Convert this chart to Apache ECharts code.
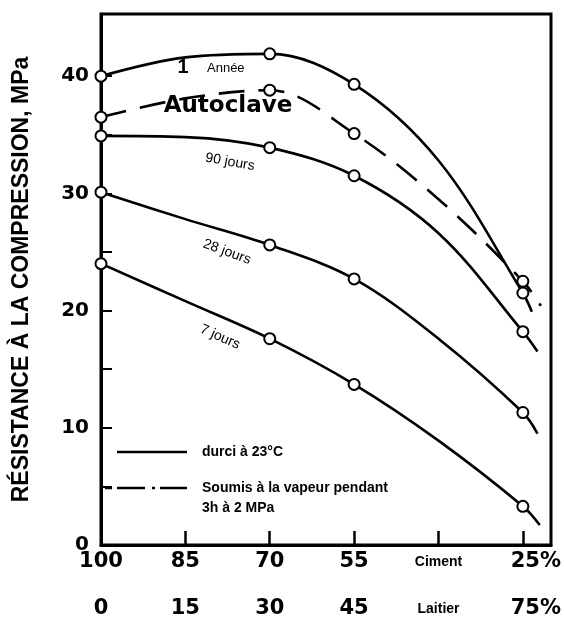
<!DOCTYPE html>
<html>
<head>
<meta charset="utf-8">
<script src="https://cdn.jsdelivr.net/npm/echarts@6/dist/echarts.min.js"></script>
<style>
  html, body { margin: 0; padding: 0; background: #fff; }
  #chart { width: 564px; height: 619px; }
</style>
</head>
<body>
<div id="chart"></div>
<script>
// Slag replacement level (%) at which each strength was measured
const slagPct = [0, 30, 45, 75];

// Compressive strength (MPa) at each replacement level
const anneeMPa     = [40.0, 41.9, 39.3, 21.5];
const autoclaveMPa = [36.5, 38.8, 35.1, 22.5];
const jours90MPa   = [34.9, 33.9, 31.5, 18.2];
const jours28MPa   = [30.1, 25.6, 22.7, 11.3];
const jours7MPa    = [24.0, 17.6, 13.7, 3.3];

// Fitted curves between measurements, read at 15 % and 60 % slag
const traceSlagPct   = [15, 60];
const anneeTrace     = [41.6, 32.8];
const autoclaveTrace = [38.1, 29.5];
const jours90Trace   = [34.8, 26.6];
const jours28Trace   = [27.8, 17.6];
const jours7Trace    = [20.8, 8.9];

// Where each drawn curve stops, just past the last measurement [slag %, MPa]
const anneeEnd     = [76.6, 19.9];
const autoclaveEnd = [78.2, 20.4];
const jours90End   = [77.6, 16.5];
const jours28End   = [77.6, 9.5];
const jours7End    = [78.0, 1.7];

// Axis tick labels (one per 15 % step)
const cementLabels = ['100', '85', '70', '55', 'Ciment', '25%'];
const slagLabels   = ['0', '15', '30', '45', 'Laitier', '75%'];
const xTickValues  = [0, 15, 30, 45, 60, 75];
const yLabelValues = [0, 10, 20, 30, 40];
const yTickValues  = [5, 10, 15, 20, 25, 30, 35, 40];

const BOLD_DIGITS = '"DejaVu Sans", sans-serif';
const SANS = '"Liberation Sans", Arial, sans-serif';

function curve(name, values, trace, end, dashed) {
  const pts = slagPct.map((x, i) => ({ value: [x, values[i]] }));
  traceSlagPct.forEach((x, i) => pts.push({ value: [x, trace[i]], symbol: 'none' }));
  pts.push({ value: end, symbol: 'none' });
  pts.sort((a, b) => a.value[0] - b.value[0]);
  return {
    name: name,
    type: 'line',
    smooth: 0.35,
    data: pts,
    symbol: 'circle',
    symbolSize: 11,
    lineStyle: { color: '#000', width: 2.6, type: dashed ? [26, 14] : 'solid' },
    itemStyle: { color: '#fff', borderColor: '#000', borderWidth: 2 },
    z: dashed ? 3 : 4,
    animation: false
  };
}

function tickLabel(list, v) {
  const i = xTickValues.indexOf(v);
  if (i < 0) return '';
  const t = list[i];
  if (t === 'Ciment' || t === 'Laitier') return '{w|' + t + '}';
  if (i === list.length - 1) return '{p|' + t + '}';
  return t;
}

const xLabelRich = {
  w: { fontFamily: SANS, fontSize: 14, fontWeight: 'bold', color: '#000', padding: [4, 0, 0, 0] },
  p: { fontFamily: BOLD_DIGITS, fontSize: 21, fontWeight: 'bold', color: '#000', padding: [0, 0, 0, 26] }
};

function xAxisFor(labels, offset, withLine) {
  return {
    type: 'value', min: 0, max: 80, position: 'bottom', offset: offset,
    axisLine: { show: withLine, onZero: false, lineStyle: { color: '#000', width: 3 } },
    axisTick: {
      show: withLine, inside: true, length: 14, customValues: [15, 30, 45, 60, 75],
      lineStyle: { color: '#000', width: 2.5 }
    },
    splitLine: { show: false },
    axisLabel: {
      margin: 6, color: '#000', fontFamily: BOLD_DIGITS, fontSize: 21, fontWeight: 'bold',
      customValues: xTickValues,
      formatter: v => tickLabel(labels, v), rich: xLabelRich
    }
  };
}

const chart = echarts.init(document.getElementById('chart'), null, { renderer: 'canvas' });

chart.setOption({
  animation: false,
  backgroundColor: '#fff',
  grid: {
    left: 101, right: 7, top: 14, bottom: 73,
    show: true, borderColor: '#000', borderWidth: 3, backgroundColor: 'transparent'
  },
  xAxis: [
    xAxisFor(cementLabels, 0, true),
    xAxisFor(slagLabels, 47, false)
  ],
  yAxis: {
    type: 'value', min: 0, max: 45.3,
    name: 'RÉSISTANCE À LA COMPRESSION, MPa',
    nameLocation: 'middle', nameGap: 68, nameRotate: 90,
    nameTextStyle: { color: '#000', fontFamily: SANS, fontSize: 23, fontWeight: 'bold' },
    axisLine: { show: true, lineStyle: { color: '#000', width: 3 } },
    axisTick: {
      show: true, inside: true, length: 11, customValues: yTickValues,
      lineStyle: { color: '#000', width: 2 }
    },
    splitLine: { show: false },
    axisLabel: {
      margin: 12, color: '#000', fontFamily: BOLD_DIGITS, fontSize: 20, fontWeight: 'bold',
      customValues: yLabelValues
    }
  },
  series: [
    curve('1 Année', anneeMPa, anneeTrace, anneeEnd, false),
    curve('Autoclave', autoclaveMPa, autoclaveTrace, autoclaveEnd, true),
    curve('90 jours', jours90MPa, jours90Trace, jours90End, false),
    curve('28 jours', jours28MPa, jours28Trace, jours28End, false),
    curve('7 jours', jours7MPa, jours7Trace, jours7End, false)
  ],
  graphic: [
    // curve names
    { type: 'text', x: 183, y: 67, style: { text: '1', font: 'bold 20px ' + SANS, fill: '#000', align: 'center', verticalAlign: 'middle' } },
    { type: 'text', x: 207, y: 68, style: { text: 'Année', font: '13px ' + SANS, fill: '#000', align: 'left', verticalAlign: 'middle' } },
    { type: 'text', x: 228, y: 106, style: { text: 'Autoclave', font: 'bold 23px ' + BOLD_DIGITS, fill: '#000', align: 'center', verticalAlign: 'middle' } },
    { type: 'text', x: 230, y: 162, rotation: -10 * Math.PI / 180, style: { text: '90 jours', font: '14px ' + SANS, fill: '#000', align: 'center', verticalAlign: 'middle' } },
    { type: 'text', x: 227, y: 252, rotation: -20 * Math.PI / 180, style: { text: '28 jours', font: '14px ' + SANS, fill: '#000', align: 'center', verticalAlign: 'middle' } },
    { type: 'text', x: 220, y: 337, rotation: -24 * Math.PI / 180, style: { text: '7 jours', font: '14px ' + SANS, fill: '#000', align: 'center', verticalAlign: 'middle' } },
    // key: curing conditions
    { type: 'line', shape: { x1: 117, y1: 452, x2: 187, y2: 452 }, style: { stroke: '#000', lineWidth: 2.6 } },
    { type: 'text', x: 202, y: 452, style: { text: 'durci à 23°C', font: 'bold 14px ' + SANS, fill: '#000', align: 'left', verticalAlign: 'middle' } },
    { type: 'line', shape: { x1: 105, y1: 488, x2: 187, y2: 488 }, style: { stroke: '#000', lineWidth: 2.6, lineDash: [7, 5, 28, 7, 3, 5, 27, 40] } },
    { type: 'text', x: 202, y: 488, style: { text: 'Soumis à la vapeur pendant', font: 'bold 14px ' + SANS, fill: '#000', align: 'left', verticalAlign: 'middle' } },
    { type: 'text', x: 202, y: 508, style: { text: '3h à 2 MPa', font: 'bold 14px ' + SANS, fill: '#000', align: 'left', verticalAlign: 'middle' } }
  ]
});
</script>
</body>
</html>
